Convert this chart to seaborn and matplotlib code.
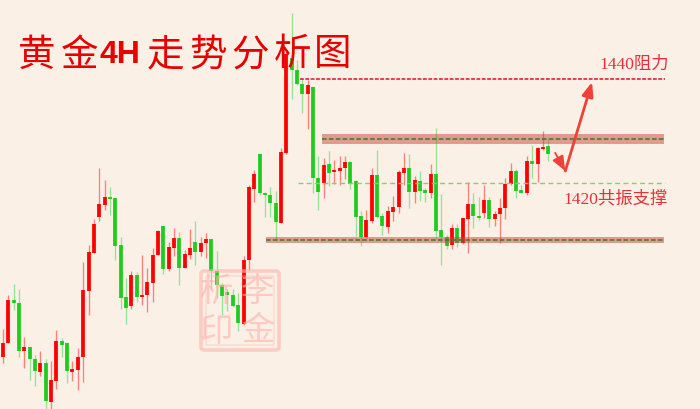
import numpy as np
import pandas as pd
import matplotlib

matplotlib.use("Agg")
import matplotlib.pyplot as plt
import matplotlib.transforms as mtransforms
from matplotlib.patches import FancyBboxPatch
import seaborn as sns

# 4H gold candles, prices
opens = [1386.5, 1389.2, 1397.5, 1396.9, 1387.6, 1388.5, 1386.2, 1383.7, 1385.3, 1377.9,
         1382.0, 1389.7, 1389.3, 1383.7, 1384.0, 1386.6, 1399.3, 1406.6, 1413.4, 1415.8,
         1417.3, 1417.1, 1408.0, 1398.1, 1396.3, 1402.4, 1398.0, 1398.4, 1400.8, 1406.2,
         1411.7, 1403.5, 1407.5, 1409.4, 1403.7, 1406.2, 1408.7, 1406.7, 1408.4, 1409.3,
         1403.1, 1400.4, 1399.1, 1398.5, 1396.6, 1392.9, 1405.1, 1418.9, 1425.6, 1418.1,
         1417.7, 1416.1, 1412.4, 1425.7, 1444.0, 1441.7, 1439.0, 1437.1, 1438.4, 1421.0,
         1420.0, 1423.6, 1422.2, 1422.3, 1422.8, 1424.0, 1420.4, 1413.6, 1409.7, 1412.6,
         1421.5, 1413.6, 1411.5, 1414.4, 1415.3, 1422.0, 1422.9, 1418.2, 1420.4, 1418.7,
         1418.1, 1421.7, 1411.0, 1409.7, 1408.1, 1411.3, 1408.4, 1413.0, 1416.0, 1413.6,
         1414.3, 1416.7, 1413.0, 1414.0, 1415.1, 1419.8, 1422.4, 1418.6, 1418.0, 1424.2,
         1423.6, 1426.5, 1427.1]
closes = [1389.2, 1397.5, 1396.9, 1387.6, 1388.5, 1386.2, 1383.9, 1385.3, 1378.0, 1382.1,
          1389.7, 1388.8, 1383.8, 1384.2, 1386.6, 1399.4, 1406.7, 1412.2, 1416.0, 1417.3,
          1416.9, 1407.9, 1397.9, 1396.0, 1402.4, 1398.0, 1398.5, 1401.0, 1406.2, 1410.8,
          1403.5, 1407.6, 1409.4, 1403.7, 1406.3, 1407.5, 1406.7, 1408.5, 1409.3, 1403.1,
          1400.4, 1398.3, 1398.4, 1396.3, 1393.0, 1405.2, 1419.2, 1421.8, 1418.1, 1417.6,
          1416.1, 1412.5, 1426.0, 1444.9, 1441.7, 1439.0, 1437.2, 1438.8, 1420.9, 1418.2,
          1423.5, 1422.0, 1422.5, 1422.9, 1424.1, 1419.9, 1413.5, 1409.7, 1412.8, 1421.5,
          1413.5, 1411.7, 1414.6, 1415.4, 1422.2, 1422.9, 1418.2, 1420.6, 1418.5, 1418.1,
          1421.7, 1410.8, 1409.7, 1407.8, 1411.3, 1408.4, 1413.2, 1416.0, 1413.6, 1413.2,
          1416.7, 1413.1, 1414.0, 1415.2, 1419.8, 1422.3, 1418.4, 1418.1, 1424.2, 1423.6,
          1426.8, 1426.9, 1425.6]
highs = [1391.9, 1398.5, 1400.5, 1399.7, 1390.3, 1388.5, 1387.0, 1387.6, 1386.1, 1385.8,
         1391.7, 1390.1, 1389.4, 1385.7, 1388.2, 1404.9, 1408.1, 1413.0, 1422.8, 1420.6,
         1419.2, 1417.1, 1409.7, 1401.7, 1403.0, 1402.9, 1406.1, 1403.7, 1407.5, 1411.0,
         1411.7, 1408.6, 1411.3, 1410.6, 1407.1, 1411.1, 1412.6, 1409.7, 1410.3, 1409.3,
         1406.9, 1400.7, 1399.7, 1399.6, 1398.8, 1406.0, 1419.6, 1422.5, 1425.6, 1418.3,
         1419.3, 1418.5, 1426.7, 1445.6, 1452.6, 1443.7, 1440.1, 1439.8, 1438.5, 1425.1,
         1424.9, 1426.2, 1424.4, 1425.1, 1425.1, 1424.2, 1420.6, 1414.6, 1414.9, 1422.8,
         1426.3, 1414.2, 1415.6, 1417.5, 1422.5, 1425.7, 1425.6, 1421.3, 1422.3, 1419.0,
         1423.6, 1430.5, 1417.8, 1410.0, 1412.1, 1412.1, 1413.2, 1420.2, 1418.1, 1417.4,
         1419.6, 1417.4, 1414.7, 1417.2, 1420.9, 1423.9, 1422.6, 1419.6, 1425.2, 1427.3,
         1427.0, 1430.0, 1428.5]
lows = [1385.3, 1389.2, 1395.6, 1386.5, 1384.4, 1382.1, 1381.0, 1382.8, 1376.6, 1376.6,
        1380.3, 1386.5, 1381.5, 1382.0, 1380.1, 1381.7, 1394.7, 1406.6, 1412.6, 1414.9,
        1413.8, 1405.2, 1395.7, 1392.8, 1395.7, 1397.2, 1396.5, 1395.2, 1397.1, 1406.1,
        1402.5, 1403.1, 1406.0, 1400.4, 1403.6, 1405.3, 1404.2, 1406.0, 1405.5, 1399.7,
        1397.8, 1394.6, 1395.3, 1396.2, 1391.6, 1392.7, 1403.3, 1416.4, 1417.7, 1413.4,
        1413.5, 1409.0, 1412.3, 1425.6, 1436.1, 1438.8, 1433.5, 1430.3, 1418.1, 1414.9,
        1417.2, 1419.4, 1419.8, 1419.6, 1420.7, 1418.8, 1409.8, 1407.9, 1409.4, 1412.4,
        1413.2, 1410.0, 1410.3, 1412.6, 1414.3, 1419.6, 1415.1, 1416.1, 1416.6, 1416.3,
        1417.2, 1409.4, 1404.2, 1407.4, 1407.4, 1407.6, 1408.3, 1406.6, 1411.4, 1412.9,
        1413.2, 1411.6, 1411.7, 1408.5, 1413.0, 1419.6, 1417.2, 1418.0, 1417.6, 1420.9,
        1420.1, 1426.3, 1424.2]

resistance_level = 1440
support_level = 1420
upper_zone = (1427.5, 1429.4)
lower_zone = (1408.4, 1409.7)

# zigzag forecast, (candle index, price)
forecast = [(103.3, 1425.8), (105.2, 1422.3), (110.2, 1439.4)]

RED = "#FF0000"
GREEN = "#1FCB1F"
BG = "#FAF0E6"


def candles_frame():
    df = pd.DataFrame({"open": opens, "close": closes, "high": highs, "low": lows})
    df["candle"] = df.index
    df["side"] = np.where(df["close"] > df["open"], "up", "down")
    return df


def long_frame(df, cols):
    return df.melt(id_vars=["candle", "side"], value_vars=cols, value_name="price")


df = candles_frame()

sns.set_theme(style="white", rc={"axes.facecolor": BG, "figure.facecolor": BG})
plt.rcParams["font.family"] = ["Noto Sans CJK SC", "DejaVu Sans"]

fig = plt.figure(figsize=(7, 4.09), dpi=100)
ax = fig.add_axes([0, 0, 1, 1])

# wicks then bodies
sns.lineplot(
    data=long_frame(df, ["low", "high"]), x="candle", y="price", hue="side", units="candle",
    estimator=None, palette={"up": "#FF8078", "down": "#96E296"}, linewidth=0.95,
    legend=False, ax=ax, solid_capstyle="butt",
)
sns.lineplot(
    data=long_frame(df, ["open", "close"]), x="candle", y="price", hue="side", units="candle",
    estimator=None, palette={"up": RED, "down": GREEN}, linewidth=2.7,
    legend=False, ax=ax, solid_capstyle="butt",
)

ax.set_xlim(-0.56, 130.4)
ax.set_ylim(1376.54, 1455.19)
ax.axis("off")

# support / resistance zones
for (lo, hi), x0 in [(upper_zone, 59.7), (lower_zone, 49.2)]:
    ax.fill_between([x0, 123.7], lo, hi, color="#C8453C", alpha=0.5, lw=0, zorder=5)
    ax.hlines((lo + hi) / 2, x0, 123.7, colors="#3E7A1E", linestyles=(0, (3, 1.5)), lw=1.1, zorder=6)

ax.hlines(resistance_level, 55.6, 123.9, colors="#E01020", linestyles=(0, (2.5, 1)), lw=1.1, zorder=4)
ax.hlines(support_level, 55.2, 123.9, colors="#8FC77E", linestyles=(0, (3.5, 2.5)), lw=1.0, zorder=4)

# forecast arrows
ax.annotate(
    "", xy=forecast[1], xytext=forecast[0], zorder=7,
    arrowprops=dict(arrowstyle="-|>,head_length=0.75,head_width=0.3", color="#F04038", lw=1.3, shrinkA=0, shrinkB=0),
)
ax.annotate(
    "", xy=forecast[2], xytext=forecast[1], zorder=7,
    arrowprops=dict(arrowstyle="-|>,head_length=0.7,head_width=0.28", color="#F04038", lw=2.0, shrinkA=0, shrinkB=0),
)

# everything below is placed in image pixels
px = mtransforms.Affine2D().scale(1 / 700, -1 / 409).translate(0, 1) + fig.transFigure

title_parts = ["黄", "金", "4H", "走", "势", "分", "析", "图"]
title_x = [37, 80, 120, 165, 208, 250, 293, 333]
for part, x in zip(title_parts, title_x):
    is_latin = part == "4H"
    ax.text(x, 55, part, transform=px, ha="center", va="center", color="#E60000",
            fontsize=23 if is_latin else 27, fontweight="bold" if is_latin else "normal",
            family=["Liberation Sans", "Noto Sans CJK SC"] if is_latin else ["Noto Sans CJK SC"], zorder=8)

label_fonts = ["Liberation Serif", "Noto Sans CJK SC"]
ax.text(634, 65, "1440阻力", transform=px, ha="center", va="center", color="#E8303A",
        fontsize=12.5, family=label_fonts, zorder=8)
ax.text(616, 199, "1420共振支撑", transform=px, ha="center", va="center", color="#E8303A",
        fontsize=12.5, family=label_fonts, zorder=8)

# faint seal over the candles
seal = "#FFB4AC"
ax.add_patch(FancyBboxPatch((201, 271), 78, 79, boxstyle="round,pad=0,rounding_size=3", transform=px,
                            fc="none", ec=seal, lw=2.6, alpha=0.6, zorder=9))
ax.add_patch(FancyBboxPatch((206, 276), 68, 69, boxstyle="round,pad=0,rounding_size=2", transform=px,
                            fc="none", ec=seal, lw=0.7, alpha=0.6, zorder=9))
seal_chars = [("李", 258, 292), ("金", 258, 331), ("析", 217, 292), ("印", 217, 331)]
for ch, x, y in seal_chars:
    ax.text(x, y, ch, transform=px, ha="center", va="center", color=seal, alpha=0.65,
            fontsize=24, fontweight="normal", family=["Noto Sans CJK SC"], zorder=9)

fig.savefig("out.png", dpi=100, facecolor=BG)
